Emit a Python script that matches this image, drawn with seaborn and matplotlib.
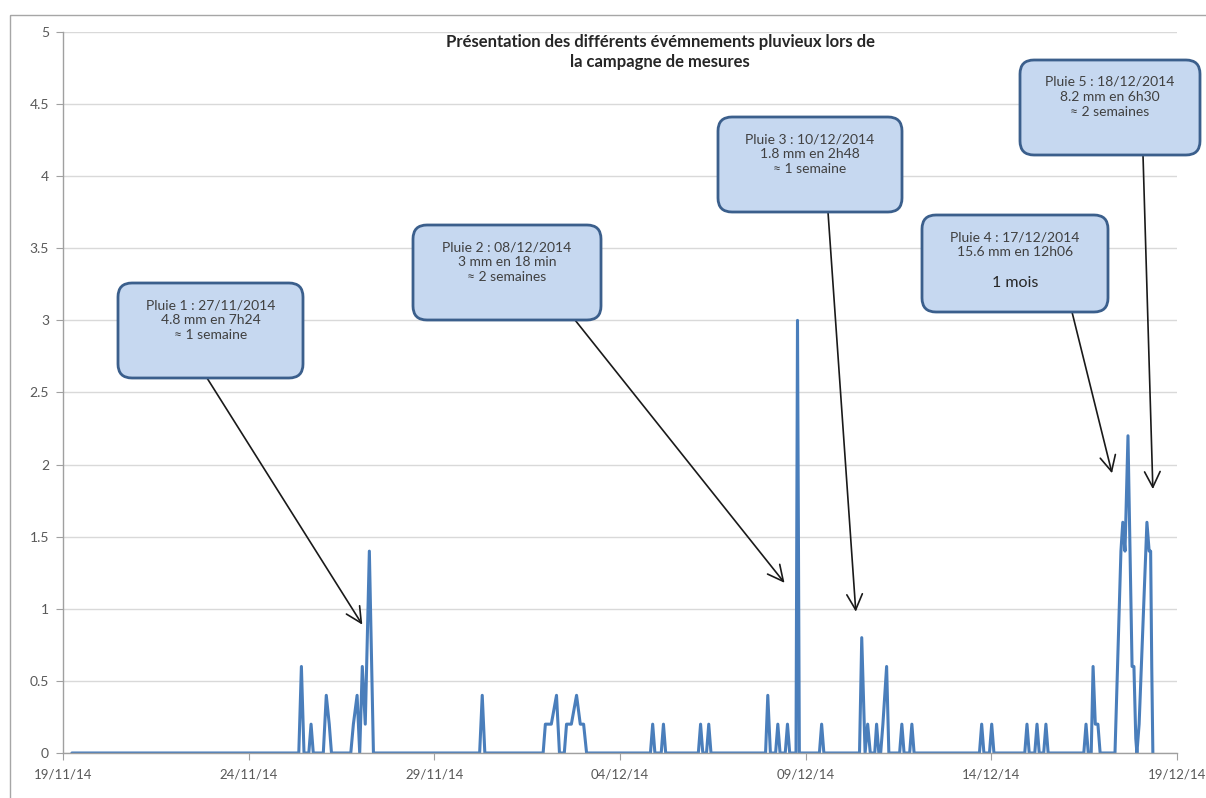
import pandas as pd
import seaborn as sns
import matplotlib
matplotlib.use("Agg")
import matplotlib.pyplot as plt
import matplotlib.dates as mdates
from matplotlib.patches import FancyBboxPatch, Rectangle

# Données : pluie (mm), temps en jours depuis le 19/11/2014
debut = pd.Timestamp("2014-11-19")

t_jours = [0.24,
           6.35, 6.42, 6.49,
           6.62, 6.68, 6.74,
           7.01, 7.09, 7.17, 7.23,
           7.75, 7.82, 7.92, 7.99, 8.06, 8.14, 8.25, 8.36,
           11.22, 11.29, 11.36,
           12.93, 12.99, 13.15, 13.29, 13.37,
           13.50, 13.56, 13.69, 13.83, 13.93, 14.02, 14.10,
           15.82, 15.88, 15.94,
           16.11, 16.17, 16.23,
           17.11, 17.17, 17.23,
           17.33, 17.39, 17.45,
           18.92, 18.98, 19.05,
           19.19, 19.25, 19.31,
           19.45, 19.51, 19.57,
           19.74, 19.78, 19.83,
           20.37, 20.43, 20.49,
           21.45, 21.51, 21.60, 21.67, 21.74, 21.86, 21.91, 21.97, 22.02, 22.08, 22.18, 22.24,
           22.53, 22.59, 22.65,
           22.80, 22.86, 22.92,
           24.68, 24.74, 24.80,
           24.95, 25.01, 25.07,
           25.90, 25.96, 26.02,
           26.17, 26.23, 26.29,
           26.41, 26.47, 26.53,
           27.49, 27.55, 27.61,
           27.69, 27.74, 27.80, 27.87, 27.93,
           28.33, 28.49, 28.54, 28.60, 28.68, 28.79, 28.84, 28.89, 28.92, 28.98,
           29.19, 29.25, 29.29, 29.32, 29.35]

pluie_mm = [0,
            0, 0.6, 0,
            0, 0.2, 0,
            0, 0.4, 0.2, 0,
            0, 0.2, 0.4, 0, 0.6, 0.2, 1.4, 0,
            0, 0.4, 0,
            0, 0.2, 0.2, 0.4, 0,
            0, 0.2, 0.2, 0.4, 0.2, 0.2, 0,
            0, 0.2, 0,
            0, 0.2, 0,
            0, 0.2, 0,
            0, 0.2, 0,
            0, 0.4, 0,
            0, 0.2, 0,
            0, 0.2, 0,
            0, 3.0, 0,
            0, 0.2, 0,
            0, 0.8, 0, 0.2, 0, 0, 0.2, 0, 0, 0.2, 0.6, 0,
            0, 0.2, 0,
            0, 0.2, 0,
            0, 0.2, 0,
            0, 0.2, 0,
            0, 0.2, 0,
            0, 0.2, 0,
            0, 0.2, 0,
            0, 0.2, 0,
            0, 0.6, 0.2, 0.2, 0,
            0, 1.4, 1.6, 1.4, 2.2, 0.6, 0.6, 0.1, 0, 0.2,
            1.6, 1.4, 1.4, 0.6, 0]

dates_ticks = pd.date_range("2014-11-19", "2014-12-19", freq="5D")
y_ticks = [0, 0.5, 1, 1.5, 2, 2.5, 3, 3.5, 4, 4.5, 5]
y_labels = ["0", "0.5", "1", "1.5", "2", "2.5", "3", "3.5", "4", "4.5", "5"]

titre = "Présentation des différents évémnements pluvieux lors de\nla campagne de mesures"

# Bulles : texte, cadre (pixels), début de flèche (pixels), pointe (jours, mm)
bulles = [
    ("Pluie 1 : 27/11/2014\n4.8 mm en 7h24\n≈ 1 semaine", (118, 283, 185, 95), (207, 378), (8.06, 0.89)),
    ("Pluie 2 : 08/12/2014\n3 mm en 18 min\n≈ 2 semaines", (413, 225, 188, 95), (575, 320), (19.43, 1.18)),
    ("Pluie 3 : 10/12/2014\n1.8 mm en 2h48\n≈ 1 semaine", (718, 117, 184, 95), (828, 212), (21.35, 0.98)),
    ("Pluie 4 : 17/12/2014\n15.6 mm en 12h06\n", (922, 215, 186, 97), (1072, 312), (28.25, 1.94)),
    ("Pluie 5 : 18/12/2014\n8.2 mm en 6h30\n≈ 2 semaines", (1020, 60, 180, 95), (1143, 155), (29.35, 1.83)),
]

df = pd.DataFrame({"date": debut + pd.to_timedelta(t_jours, unit="D"), "pluie": pluie_mm})

sns.set_style("white")
plt.rcParams["font.family"] = ["Lato", "DejaVu Sans"]

W, H = 1206, 798
fig = plt.figure(figsize=(W / 100, H / 100), dpi=100)
ax = fig.add_axes([63 / W, 1 - 753 / H, (1177 - 63) / W, (753 - 32) / H])

sns.lineplot(data=df, x="date", y="pluie", ax=ax, color="#4a7ebb",
             linewidth=2.2, estimator=None)

ax.set_xlim(debut, debut + pd.Timedelta(days=30))
ax.set_ylim(0, 5)
ax.set_xticks(dates_ticks)
ax.xaxis.set_major_formatter(mdates.DateFormatter("%d/%m/%y"))
ax.set_yticks(y_ticks)
ax.set_yticklabels(y_labels)
ax.set_xlabel("")
ax.set_ylabel("")
ax.yaxis.grid(True, color="#d9d9d9", linewidth=1)
ax.xaxis.grid(False)
for s in ["top", "right"]:
    ax.spines[s].set_visible(False)
for s in ["left", "bottom"]:
    ax.spines[s].set_color("#a0a0a0")
    ax.spines[s].set_linewidth(1)
ax.tick_params(axis="both", which="both", length=5, color="#a0a0a0",
               labelcolor="#595959", labelsize=10, direction="out")
ax.tick_params(axis="x", pad=6, labelsize=9.5)
ax.tick_params(axis="y", pad=5)
ax.tick_params(left=True, bottom=True)

# Calque en pixels pour le titre et les bulles
ov = fig.add_axes([0, 0, 1, 1], zorder=5)
ov.set_xlim(0, W)
ov.set_ylim(H, 0)
ov.axis("off")
ov.patch.set_alpha(0)

ov.add_patch(Rectangle((10, 15), W + 50, H + 50, fill=False, ec="#a6a6a6", lw=1))
ov.text(660, 52, titre, ha="center", va="center", fontsize=12,
        fontweight="bold", color="#262626", linespacing=1.25)

for texte, (x0, y0, w, h), (sx, sy), (pt, pv) in bulles:
    ax.annotate("", xy=(mdates.date2num(debut + pd.Timedelta(days=pt)), pv),
                xytext=(sx, H - sy), textcoords="figure pixels",
                arrowprops=dict(arrowstyle="->,head_length=0.8,head_width=0.4",
                                color="#1a1a1a", lw=1.2, mutation_scale=14,
                                shrinkA=0, shrinkB=0))
    ov.add_patch(FancyBboxPatch((x0, y0), w, h,
                                boxstyle="round,pad=0,rounding_size=14",
                                fc="#c6d8f0", ec="#3b5f8c", lw=2))
    ov.text(x0 + w / 2, y0 + 37, texte, ha="center", va="center",
            fontsize=10, color="#404040", linespacing=1.3)

# "1 mois" plus gros dans la bulle 4
ov.text(922 + 93, 283, "1 mois", ha="center", va="center", fontsize=11.5, color="#262626")

fig.savefig("out.png", dpi=100)
